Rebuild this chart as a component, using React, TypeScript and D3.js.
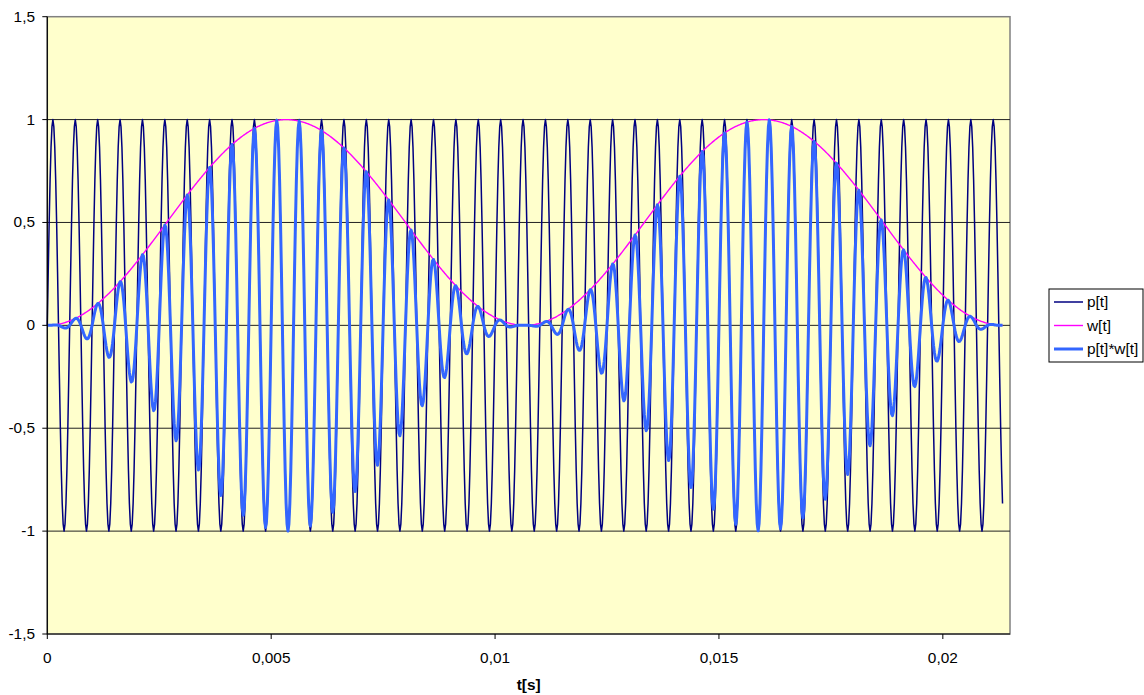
import React from "react";
import * as d3 from "d3";

const SAMPLE_RATE = 48000; // Hz
const CARRIER_FREQ = 2000; // Hz (p[t])
const WINDOW_LENGTH = 512; // samples per Hann window (w[t])
const SAMPLE_COUNT = 1025; // t from 0 to 1024/48000 s

const xTicks = [0, 0.005, 0.01, 0.015, 0.02];
const xTickLabels = ["0", "0,005", "0,01", "0,015", "0,02"];
const yTicks = [-1.5, -1, -0.5, 0, 0.5, 1, 1.5];
const yTickLabels = ["-1,5", "-1", "-0,5", "0", "0,5", "1", "1,5"];
const seriesNames = ["p[t]", "w[t]", "p[t]*w[t]"];
const X_MAX = 0.0215;

const times: number[] = d3.range(SAMPLE_COUNT).map((n) => n / SAMPLE_RATE);
const pValues: number[] = d3.range(SAMPLE_COUNT).map((n) => Math.sin((2 * Math.PI * CARRIER_FREQ * n) / SAMPLE_RATE));
const wValues: number[] = d3.range(SAMPLE_COUNT).map((n) => 0.5 * (1 - Math.cos((2 * Math.PI * n) / WINDOW_LENGTH)));
const pwValues: number[] = pValues.map((v, i) => v * wValues[i]);

const W = 1144;
const H = 695;
const plot = { left: 47.3, right: 1010, top: 16.7, bottom: 634 };
const FONT = "'Liberation Sans', Arial, sans-serif";
const FS = 14;
const SX = 1.1;

function T(props: { x: number; y: number; anchor?: string; bold?: boolean; children: React.ReactNode }) {
  return (
    <text
      transform={`translate(${props.x},${props.y}) scale(${SX},1)`}
      textAnchor={props.anchor || "start"}
      fontSize={FS}
      fontWeight={props.bold ? "bold" : "normal"}
      fill="#000"
    >
      {props.children}
    </text>
  );
}

export default function App() {
  const x = d3.scaleLinear().domain([0, X_MAX]).range([plot.left, plot.right]);
  const y = d3.scaleLinear().domain([-1.5, 1.5]).range([plot.bottom, plot.top]);

  const line = (vals: number[]) =>
    d3
      .line<number>()
      .x((_, i) => x(times[i]))
      .y((d) => y(d))(vals) || "";

  const series = [
    { name: seriesNames[0], values: pValues, color: "#000080", width: 1.5 },
    { name: seriesNames[1], values: wValues, color: "#FF00FF", width: 1.4 },
    { name: seriesNames[2], values: pwValues, color: "#3366FF", width: 3 },
  ];

  const legend = { x: 1049, y: 289, w: 94, h: 73 };

  return (
    <svg
      width={W}
      height={H}
      style={{ position: "absolute", left: 0, top: 0, background: "#fff" }}
      fontFamily={FONT}
    >
      <rect
        x={plot.left}
        y={plot.top}
        width={plot.right - plot.left}
        height={plot.bottom - plot.top}
        fill="#FFFFCC"
        stroke="#808080"
        strokeWidth={1.5}
      />
      {yTicks
        .filter((t) => Math.abs(t) < 1.5)
        .map((t) => (
          <line key={"g" + t} x1={plot.left} x2={plot.right} y1={y(t)} y2={y(t)} stroke="#222" strokeWidth={1} />
        ))}
      <g>
        {series.map((s) => (
          <path
            key={s.name}
            d={line(s.values)}
            fill="none"
            stroke={s.color}
            strokeWidth={s.width}
            strokeLinejoin="round"
          />
        ))}
      </g>
      {/* axes */}
      <line x1={plot.left} x2={plot.left} y1={plot.top} y2={plot.bottom} stroke="#000" strokeWidth={1.2} />
      <line x1={plot.left} x2={plot.right} y1={plot.bottom} y2={plot.bottom} stroke="#000" strokeWidth={1.2} />
      {yTicks.map((t, i) => (
        <g key={"y" + t}>
          <line x1={plot.left - 5} x2={plot.left} y1={y(t)} y2={y(t)} stroke="#000" />
          <T x={35} y={y(t) + 5} anchor="end">
            {yTickLabels[i]}
          </T>
        </g>
      ))}
      {xTicks.map((t, i) => (
        <g key={"x" + t}>
          <line x1={x(t)} x2={x(t)} y1={plot.bottom} y2={plot.bottom + 5} stroke="#000" />
          <T x={x(t)} y={663} anchor="middle">
            {xTickLabels[i]}
          </T>
        </g>
      ))}
      <T x={(plot.left + plot.right) / 2} y={690} anchor="middle" bold>
        t[s]
      </T>
      {/* legend */}
      <rect x={legend.x} y={legend.y} width={legend.w} height={legend.h} fill="#fff" stroke="#000" strokeWidth={1} />
      {series.map((s, i) => {
        const cy = legend.y + 13 + i * 23.5;
        return (
          <g key={"l" + s.name}>
            <line x1={legend.x + 5} x2={legend.x + 34} y1={cy} y2={cy} stroke={s.color} strokeWidth={s.width} />
            <T x={legend.x + 38} y={cy + 5}>
              {s.name}
            </T>
          </g>
        );
      })}
    </svg>
  );
}
